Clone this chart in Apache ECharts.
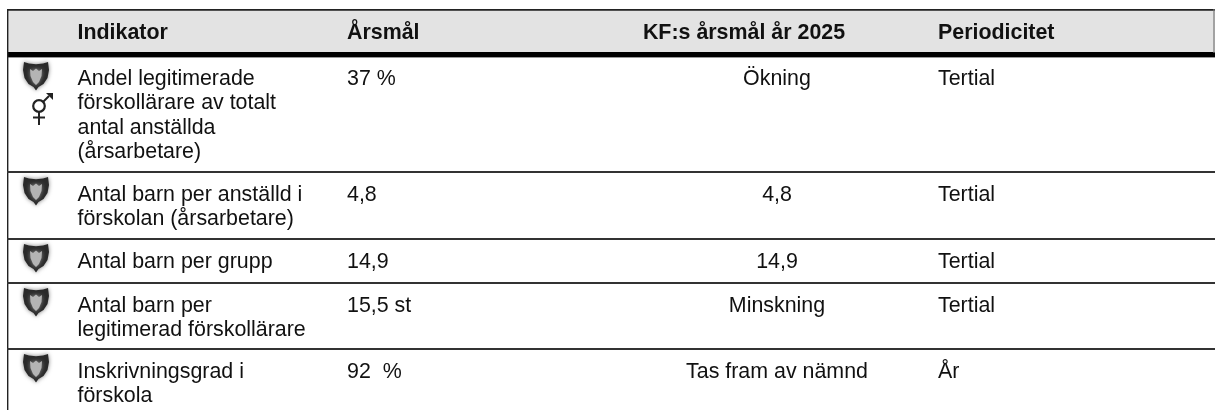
<!DOCTYPE html>
<html><head><meta charset="utf-8">
<style>html,body{margin:0;padding:0;background:#fff}#c{width:1215px;height:410px}</style>
<script src="https://cdn.jsdelivr.net/npm/echarts@6/dist/echarts.min.js"></script>
</head><body><div id="c"></div>
<script>
const headers = ["Indikator","Årsmål","KF:s årsmål år 2025","Periodicitet"];
const indicators = [
 ["Andel legitimerade","förskollärare av totalt","antal anställda","(årsarbetare)"],
 ["Antal barn per anställd i","förskolan (årsarbetare)"],
 ["Antal barn per grupp"],
 ["Antal barn per","legitimerad förskollärare"],
 ["Inskrivningsgrad i","förskola"]
];
const targets = ["37 %","4,8","14,9","15,5 st","92  %"];
const kfTargets = ["Ökning","4,8","14,9","Minskning","Tas fram av nämnd"];
const periods = ["Tertial","Tertial","Tertial","Tertial","År"];
const rowTop = [57,172,239,283,349];
const textY = [79,195,262,306,372];
const lineGap = 24.5;
const font = 'Liberation Sans, Arial, sans-serif';
const size = 21.4;
const colX = [77.5,347,777,938];
const kfHeaderX = 744;

const g = [];
const txt = (t,x,y,o={}) => g.push({type:'text',x,y,silent:true,style:{text:t,fill:'#111',font:`${o.bold?'bold ':''}${size}px ${font}`,textAlign:o.align||'left',textVerticalAlign:'middle'}});
const rect = (x,y,w,h,fill) => g.push({type:'rect',silent:true,shape:{x,y,width:w,height:h},style:{fill}});

rect(7,10,1208,43,'#e3e3e3');
rect(7,9,1208,1.8,'#222');
rect(7,52,1208,5,'#000');
rect(7,57,1208,0.8,'#777');
rect(7,9,1.4,401,'#222');
rect(1213.4,9,1.2,44,'#777');
txt(headers[0],colX[0],33,{bold:true});
txt(headers[1],colX[1],33,{bold:true});
txt(headers[2],kfHeaderX,33,{bold:true,align:'center'});
txt(headers[3],colX[3],33,{bold:true});

const shieldPts = [[1,0],[6,1.5],[13,2.2],[20,1.5],[25,0],[26,8],[24.5,16],[20.5,22],[15.5,25],[13,28.5],[10.5,25],[5.5,22],[1.5,16],[0,8]];
const headPts = [[7,7],[10,9],[13,6.5],[16,9],[19,7],[18.5,14],[16,20],[13,23],[10,20],[7.5,14]];
const at = (pts,x,y)=>pts.map(p=>[p[0]+x,p[1]+y]);
function drawShield(y){
  g.push({type:'polygon',silent:true,shape:{points:at(shieldPts,23,y)},style:{fill:'#2a2a2a',shadowBlur:4,shadowColor:'rgba(0,0,0,.5)'}});
  g.push({type:'polygon',silent:true,shape:{points:at(headPts,23,y)},style:{fill:'#b4b4b4',shadowBlur:4,shadowColor:'#888'}});
}
indicators.forEach((lines,i)=>{
  if(i>0) rect(7,rowTop[i]-0.9,1208,1.8,'#333');
  drawShield(rowTop[i]+5);
  lines.forEach((l,k)=>txt(l,colX[0],textY[i]+k*lineGap));
  txt(targets[i],colX[1],textY[i]);
  txt(kfTargets[i],colX[2],textY[i],{align:'center'});
  txt(periods[i],colX[3],textY[i]);
});
g.push({type:'circle',silent:true,shape:{cx:39,cy:106,r:5.8},style:{fill:'none',stroke:'#222',lineWidth:2.2}});
g.push({type:'line',silent:true,shape:{x1:39,y1:112,x2:39,y2:125},style:{stroke:'#222',lineWidth:2}});
g.push({type:'line',silent:true,shape:{x1:33,y1:117.5,x2:45,y2:117.5},style:{stroke:'#222',lineWidth:2}});
g.push({type:'line',silent:true,shape:{x1:43,y1:102,x2:49,y2:96},style:{stroke:'#222',lineWidth:2}});
g.push({type:'polygon',silent:true,shape:{points:[[46,93],[53,93],[53,100]]},style:{fill:'#222'}});

const chart = echarts.init(document.getElementById('c'),null,{renderer:'canvas'});
chart.setOption({animation:false,backgroundColor:'#fff',graphic:{elements:g}});
</script></body></html>
